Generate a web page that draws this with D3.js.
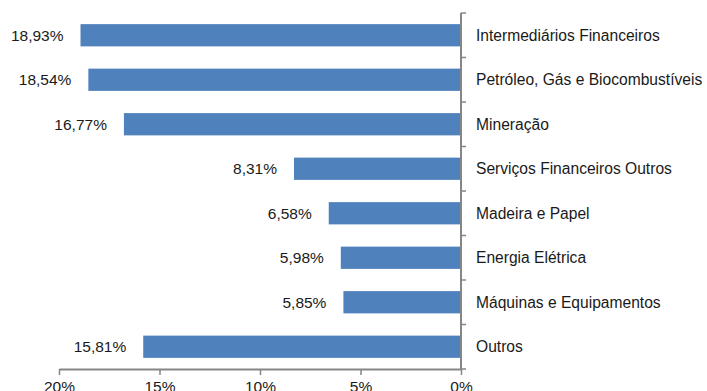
<!DOCTYPE html>
<html>
<head>
<meta charset="utf-8">
<script src="https://cdn.jsdelivr.net/npm/d3@7"></script>
<style>
  html, body { margin: 0; padding: 0; background: #fff; }
  svg { display: block; font-family: "Liberation Sans", Arial, sans-serif; }
</style>
</head>
<body>
<svg id="chart" width="707" height="391"></svg>
<script>
// Sector shares, in percent
const sectors = [
  "Intermediários Financeiros",
  "Petróleo, Gás e Biocombustíveis",
  "Mineração",
  "Serviços Financeiros Outros",
  "Madeira e Papel",
  "Energia Elétrica",
  "Máquinas e Equipamentos",
  "Outros"
];
const shares = [18.93, 18.54, 16.77, 8.31, 6.58, 5.98, 5.85, 15.81];
const xTicks = [20, 15, 10, 5, 0];

const fmt = v => v.toFixed(2).replace(".", ",") + "%";
const FONT = "'Liberation Sans', Arial, sans-serif";

const svg = d3.select("#chart");
const plot = { left: 59, right: 461, top: 13, bottom: 369 };

// Reversed value axis: 0% on the right, 20% on the left
const x = d3.scaleLinear().domain([20, 0]).range([plot.left, plot.right]);
const y = d3.scaleBand().domain(sectors).range([plot.top, plot.bottom]).paddingInner(0.5).paddingOuter(0.25);

const axisColor = "#868686";

// Bars grow leftwards from the 0% line
svg.append("g").selectAll("rect")
  .data(sectors)
  .join("rect")
  .attr("x", (d, i) => x(shares[i]))
  .attr("y", d => y(d))
  .attr("width", (d, i) => x(0) - x(shares[i]))
  .attr("height", y.bandwidth())
  .attr("fill", "#4F81BD");

// Value labels outside the bar ends
svg.append("g").selectAll("text")
  .data(sectors)
  .join("text")
  .attr("x", (d, i) => x(shares[i]) - 17)
  .attr("y", d => y(d) + y.bandwidth() / 2)
  .attr("dy", "0.35em")
  .attr("text-anchor", "end")
  .attr("font-family", FONT)
  .attr("font-size", 15.5)
  .attr("fill", "#1a1a1a")
  .text((d, i) => fmt(shares[i]));

// Category axis on the right, ticks at category boundaries
const step = (plot.bottom - plot.top) / sectors.length;
const gy = svg.append("g");
gy.append("line")
  .attr("x1", plot.right).attr("x2", plot.right)
  .attr("y1", plot.top).attr("y2", plot.bottom)
  .attr("stroke", axisColor).attr("stroke-width", 2);
gy.selectAll("line.tick")
  .data(d3.range(sectors.length + 1))
  .join("line")
  .attr("class", "tick")
  .attr("x1", plot.right).attr("x2", plot.right + 5)
  .attr("y1", i => plot.top + i * step).attr("y2", i => plot.top + i * step)
  .attr("stroke", axisColor).attr("stroke-width", 1.5);
gy.selectAll("text")
  .data(sectors)
  .join("text")
  .attr("x", plot.right + 15)
  .attr("y", d => y(d) + y.bandwidth() / 2)
  .attr("dy", "0.35em")
  .attr("font-family", FONT)
  .attr("font-size", 15.6)
  .attr("fill", "#1a1a1a")
  .text(d => d);

// Value axis along the bottom
const gx = svg.append("g").attr("transform", `translate(0,${plot.bottom})`);
gx.call(d3.axisBottom(x).tickValues(xTicks).tickSize(6).tickSizeOuter(0).tickFormat(d => d + "%"));
gx.select(".domain").attr("stroke", axisColor).attr("stroke-width", 2);
gx.selectAll(".tick line").attr("stroke", axisColor).attr("stroke-width", 1.5);
gx.selectAll(".tick text")
  .attr("font-size", 15.5)
  .attr("font-family", FONT)
  .attr("fill", "#1a1a1a")
  .attr("y", 12)
  .attr("dy", "0.71em");
</script>
</body>
</html>
